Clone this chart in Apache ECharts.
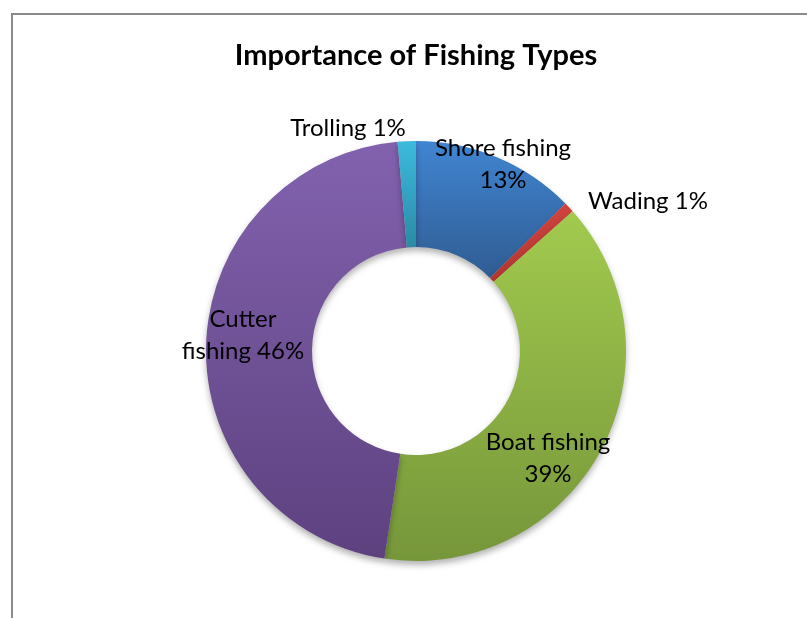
<!DOCTYPE html>
<html>
<head>
    <meta charset="utf-8">
    <title>Importance of Fishing Types</title>
    <script src="https://cdn.jsdelivr.net/npm/echarts@6/dist/echarts.min.js"></script>
    <style>
        html, body { margin: 0; padding: 0; background: #fff; }
        #main { width: 807px; height: 618px; }
    </style>
</head>
<body>
    <div id="main"></div>
    <script type="text/javascript">
        // data (slice angles), labels show rounded %
        var categories = ['Shore fishing', 'Wading', 'Boat fishing', 'Cutter fishing', 'Trolling'];
        var shares = [12.6, 0.8, 39.0, 46.2, 1.4];
        // how each label wraps in the original: 0 = one line, 1 = break before %, 2 = break after first word
        var labelWrap = [1, 0, 1, 2, 0];

        // top / bottom colour of every slice (office style shading)
        var sliceColors = [
            ['#4085d2', '#305c92'],
            ['#d0433e', '#b23632'],
            ['#a2ca4e', '#76963a'],
            ['#8262ae', '#5d417f'],
            ['#3cbadc', '#2a8ba6']
        ];
        // where the labels sit
        var labelPos = [
            [503, 164],
            [648, 201],
            [548, 458],
            [243, 335],
            [348, 128]
        ];

        var myChart = echarts.init(document.getElementById('main'));

        var pieData = categories.map(function (name, i) {
            return {
                name: name,
                value: shares[i],
                itemStyle: {
                    color: {
                        type: 'linear', x: 0, y: 0, x2: 0, y2: 1,
                        colorStops: [
                            { offset: 0, color: sliceColors[i][0] },
                            { offset: 1, color: sliceColors[i][1] }
                        ]
                    }
                }
            };
        });

        var option = {
            backgroundColor: '#ffffff',
            animation: false,
            title: {
                text: 'Importance of Fishing Types',
                left: 416,
                textAlign: 'center',
                top: 41,
                padding: 0,
                textStyle: {
                    fontFamily: 'Lato',
                    fontWeight: 'bold',
                    fontSize: 29,
                    color: '#000'
                }
            },
            graphic: [
                {
                    type: 'polyline',
                    shape: { points: [[12, 618], [12, 14], [807, 14]] },
                    style: { stroke: '#8a8a8a', lineWidth: 2, fill: null }
                }
            ],
            series: [{
                type: 'pie',
                center: [416, 351],
                radius: [104, 210],
                startAngle: 90,
                clockwise: true,
                avoidLabelOverlap: false,
                itemStyle: {
                    borderWidth: 0,
                    shadowBlur: 6,
                    shadowOffsetY: 4,
                    shadowColor: 'rgba(0,0,0,0.3)'
                },
                label: {
                    show: true,
                    position: 'inside',
                    fontFamily: 'Lato',
                    fontSize: 24,
                    color: '#000',
                    lineHeight: 32,
                    align: 'center',
                    formatter: function (p) {
                        var pct = Math.round(p.percent) + '%';
                        var w = labelWrap[p.dataIndex];
                        if (w === 1) return p.name + '\n' + pct;
                        if (w === 2) {
                            var parts = p.name.split(' ');
                            return parts[0] + '\n' + parts.slice(1).join(' ') + ' ' + pct;
                        }
                        return p.name + ' ' + pct;
                    }
                },
                labelLine: { show: false },
                labelLayout: function (p) {
                    return {
                        x: labelPos[p.dataIndex][0],
                        y: labelPos[p.dataIndex][1],
                        align: 'center',
                        verticalAlign: 'middle'
                    };
                },
                emphasis: { disabled: true },
                data: pieData
            }]
        };

        myChart.setOption(option);
    </script>
</body>
</html>
